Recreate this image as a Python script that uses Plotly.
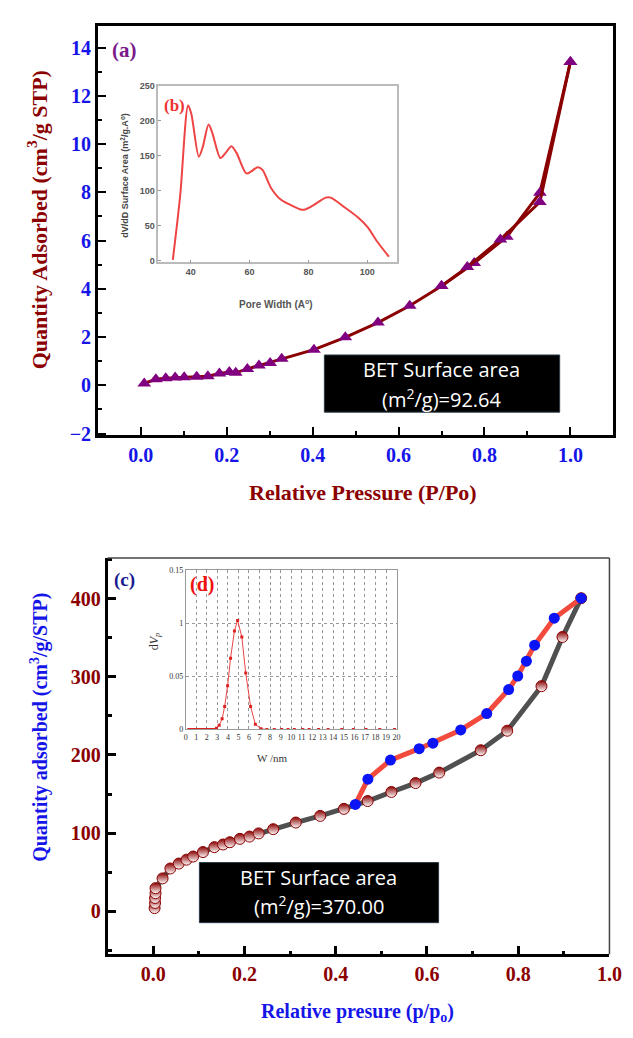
import plotly.graph_objects as go

W, H = 633, 1038
SERIF = "Liberation Serif, Times New Roman, serif"
DARKRED = "#8b0000"
BLUE = "#1515e8"

# ---------- (a) BET isotherm ----------
a_ads_x = [0.008, 0.035, 0.058, 0.08, 0.101, 0.13, 0.156, 0.183, 0.206, 0.221, 0.248, 0.275,
           0.301, 0.328, 0.403, 0.476, 0.552, 0.626, 0.70, 0.76, 0.837, 0.929, 1.0]
a_ads_y = [0.08, 0.25, 0.29, 0.32, 0.34, 0.36, 0.38, 0.49, 0.55, 0.52, 0.68, 0.82,
           0.93, 1.1, 1.48, 1.99, 2.6, 3.3, 4.12, 4.9, 6.04, 7.6, 13.4]
a_des_x = [1.0, 0.929, 0.852, 0.776, 0.70]
a_des_y = [13.4, 7.98, 6.16, 5.07, 4.12]

# ---------- (b) pore size distribution ----------
b_x = [33.9, 36.4, 39.1, 40.2, 42.75, 44.1, 46.06, 47.4, 50.1, 51.8, 53.8, 55.6, 58.9, 60.6,
       62.8, 64.4, 67.2, 70.5, 74.9, 78.2, 81.5, 85.9, 87.6, 92.5, 96.9, 100.2, 103.5, 107.4]
b_y = [1.4, 93, 222, 210, 149, 163, 195, 182, 147, 154, 164, 154, 125, 128,
       134, 130, 105, 88, 78, 73, 79, 90.5, 90.5, 76, 62, 48, 27, 6]

# ---------- (c) N2 isotherm ----------
c_ads_x = [0.003, 0.004, 0.004, 0.005, 0.005, 0.0204, 0.0375, 0.056, 0.073, 0.0875, 0.109,
           0.134, 0.153, 0.168, 0.19, 0.211, 0.231, 0.263, 0.3125, 0.366, 0.418, 0.47,
           0.522, 0.575, 0.627, 0.718, 0.776, 0.851, 0.897, 0.938]
c_ads_y = [4, 10.6, 17, 23, 29.5, 42, 54.7, 61, 66, 70, 75.7,
           82, 85.4, 88.3, 92.6, 95.5, 99.6, 105, 113.5, 122, 131, 141,
           152.6, 164, 177.4, 206, 231, 288, 351, 400.6]
c_des_x = [0.938, 0.879, 0.836, 0.818, 0.799, 0.779, 0.731, 0.674, 0.613, 0.583, 0.52, 0.4705, 0.443]
c_des_y = [400.6, 375, 340.5, 320, 301, 283.7, 253, 232, 215, 208, 193.4, 169, 136.7]

# ---------- (d) BJH distribution ----------
d_x = [0.3, 0.5, 0.7, 0.9, 1.1, 1.3, 1.5, 1.7, 1.9, 2.1, 2.3, 2.5, 2.7, 2.92, 3.17, 3.45, 3.69,
       3.97, 4.25, 4.62, 4.92, 5.32, 5.69, 6.15, 6.6, 7.14, 7.7, 8.4, 9.1, 9.7, 10.3, 11.1,
       11.7, 12.6, 13.5, 14.8, 15.9, 17.1, 18.4, 19.8]
d_y = [0, 0, 0, 0, 0, 0, 0, 0, 0, 0, 0, 0, 0, 0.0012, 0.004, 0.01, 0.0216,
       0.041, 0.067, 0.0926, 0.1025, 0.087, 0.053, 0.0216, 0.005, 0.0006, 0, 0, 0, 0, 0, 0,
       0, 0, 0, 0, 0, 0, 0, 0]
d_tickvals = [0, 0.05, 0.1, 0.15]
d_ticktext = ["0", "0.05", "1", "0.15"]


def px_x(p):
    return p / W


def px_y(p):
    return 1 - p / H


fig = go.Figure()

# (a)
fig.add_trace(go.Scatter(x=a_des_x, y=a_des_y, mode="lines+markers", xaxis="x", yaxis="y",
                         line=dict(color=DARKRED, width=3),
                         marker=dict(symbol="triangle-up", size=12, color="#800080"),
                         showlegend=False))
fig.add_trace(go.Scatter(x=a_ads_x, y=a_ads_y, mode="lines+markers", xaxis="x", yaxis="y",
                         line=dict(color=DARKRED, width=3),
                         marker=dict(symbol="triangle-up", size=12, color="#800080"),
                         showlegend=False))
# (b)
fig.add_trace(go.Scatter(x=b_x, y=b_y, mode="lines", xaxis="x2", yaxis="y2",
                         line=dict(color="#ee4444", width=2, shape="spline", smoothing=0.8),
                         showlegend=False))
# (c)
fig.add_trace(go.Scatter(x=c_ads_x, y=c_ads_y, mode="lines+markers", xaxis="x3", yaxis="y3",
                         line=dict(color="#505050", width=5),
                         marker=dict(symbol="circle", size=11, color=DARKRED,
                                     gradient=dict(type="vertical", color="white"),
                                     line=dict(color=DARKRED, width=1)),
                         showlegend=False))
fig.add_trace(go.Scatter(x=c_des_x, y=c_des_y, mode="lines+markers", xaxis="x3", yaxis="y3",
                         line=dict(color="#f24a3c", width=5),
                         marker=dict(symbol="circle", size=11, color="#0a14f5"),
                         showlegend=False))
# (d)
fig.add_trace(go.Scatter(x=d_x, y=d_y, mode="lines+markers", xaxis="x4", yaxis="y4",
                         line=dict(color="#ee4444", width=1),
                         marker=dict(symbol="square", size=3, color="#dd2222"),
                         showlegend=False))

tickfont_a = dict(family=SERIF, size=20, color=BLUE, weight="bold")
tickfont_c = dict(family=SERIF, size=20, color=DARKRED, weight="bold")

fig.update_layout(
    width=W, height=H,
    margin=dict(l=0, r=0, t=0, b=0),
    paper_bgcolor="white", plot_bgcolor="white",
    xaxis=dict(domain=[px_x(90), px_x(618)], range=[-0.1, 1.1], anchor="y",
               tickvals=[0, 0.2, 0.4, 0.6, 0.8, 1.0], ticktext=["0.0", "0.2", "0.4", "0.6", "0.8", "1.0"],
               ticks="inside", ticklen=8, tickwidth=2, tickcolor="black",
               minor=dict(ticks="inside", ticklen=4, tickwidth=2, dtick=0.1, tick0=0, tickcolor="black"),
               showline=True, linecolor="black", linewidth=2.5, mirror=True,
               showgrid=False, zeroline=False, tickfont=tickfont_a),
    yaxis=dict(domain=[px_y(428), px_y(13)], range=[-2.05, 14.9], anchor="x",
               tickvals=[-2, 0, 2, 4, 6, 8, 10, 12, 14],
               ticks="inside", ticklen=8, tickwidth=2, tickcolor="black",
               minor=dict(ticks="inside", ticklen=4, tickwidth=2, dtick=1, tick0=0, tickcolor="black"),
               showline=True, linecolor="black", linewidth=2.5, mirror=True,
               showgrid=False, zeroline=False, tickfont=tickfont_a),
    xaxis2=dict(domain=[px_x(152), px_x(396)], range=[29, 110], anchor="y2",
                tickvals=[40, 60, 80, 100], ticks="inside", ticklen=3, tickcolor="#999",
                showline=True, linecolor="#bbbbbb", linewidth=1.5, mirror=True,
                showgrid=False, zeroline=False,
                tickfont=dict(family="Liberation Sans, Arial, sans-serif", size=9, color="#555", weight="bold")),
    yaxis2=dict(domain=[px_y(253), px_y(74)], range=[-2, 250], anchor="x2",
                tickvals=[0, 50, 100, 150, 200, 250], ticks="inside", ticklen=3, tickcolor="#999",
                showline=True, linecolor="#bbbbbb", linewidth=1.5, mirror=True,
                showgrid=False, zeroline=False,
                tickfont=dict(family="Liberation Sans, Arial, sans-serif", size=9, color="#555", weight="bold")),
    xaxis3=dict(domain=[px_x(100), px_x(614)], range=[-0.1, 1.0], anchor="y3",
                tickvals=[0, 0.2, 0.4, 0.6, 0.8, 1.0], ticktext=["0.0", "0.2", "0.4", "0.6", "0.8", "1.0"],
                ticks="inside", ticklen=8, tickwidth=2.5, tickcolor="black",
                minor=dict(ticks="inside", ticklen=3, tickwidth=3, dtick=0.1, tick0=0, tickcolor="black"),
                showline=True, linecolor="black", linewidth=3,
                showgrid=False, zeroline=False, tickfont=tickfont_c),
    yaxis3=dict(domain=[px_y(955), px_y(553)], range=[-55, 452], anchor="x3",
                tickvals=[0, 100, 200, 300, 400],
                ticks="inside", ticklen=8, tickwidth=2.5, tickcolor="black",
                minor=dict(ticks="inside", ticklen=4, tickwidth=2.5, dtick=50, tick0=0, tickcolor="black"),
                showline=True, linecolor="black", linewidth=3,
                showgrid=False, zeroline=False, tickfont=tickfont_c),
    xaxis4=dict(domain=[px_x(180), px_x(396)], range=[0, 20], anchor="y4",
                tickvals=list(range(0, 21)), ticks="",
                showline=True, linecolor="#999", linewidth=1, mirror=True,
                showgrid=True, gridcolor="#999", griddash="dot", gridwidth=1, zeroline=False,
                tickfont=dict(family=SERIF, size=8, color="#333")),
    yaxis4=dict(domain=[px_y(727), px_y(565)], range=[0, 0.15], anchor="x4",
                tickvals=d_tickvals, ticktext=d_ticktext, ticks="",
                showline=True, linecolor="#999", linewidth=1, mirror=True,
                showgrid=True, gridcolor="#999", griddash="dot", gridwidth=1, zeroline=False,
                tickfont=dict(family=SERIF, size=8, color="#333")),
)

shapes = [
    # top/right frame of (c)
    dict(type="line", xref="paper", yref="paper", x0=px_x(100), x1=px_x(614), y0=px_y(553), y1=px_y(553),
         line=dict(color="#444", width=1.5)),
    dict(type="line", xref="paper", yref="paper", x0=px_x(614), x1=px_x(614), y0=px_y(553), y1=px_y(955),
         line=dict(color="#444", width=1.5)),
    # BET boxes
    dict(type="rect", xref="paper", yref="paper", x0=px_x(322), x1=px_x(563), y0=px_y(405), y1=px_y(347),
         fillcolor="black", line=dict(color="#2a3a48", width=1)),
    dict(type="rect", xref="paper", yref="paper", x0=px_x(194), x1=px_x(439), y0=px_y(923), y1=px_y(862),
         fillcolor="black", line=dict(color="#2a3a48", width=1)),
]
fig.update_layout(shapes=shapes)

SANS = "Open Sans, Lato, sans-serif"
ann = [
    # (a) axis titles
    dict(x=px_x(28), y=px_y(210), text="Quantity Adsorbed (cm<sup>3</sup>/g STP)", textangle=-90,
         font=dict(family=SERIF, size=22, color=DARKRED, weight="bold")),
    dict(x=px_x(362), y=px_y(487), text="Relative Pressure (P/Po)",
         font=dict(family=SERIF, size=22, color=DARKRED, weight="bold")),
    dict(x=px_x(117), y=px_y(38), text="(a)", font=dict(family=SERIF, size=21, color="#7a1a8a", weight="bold")),
    # (b)
    dict(x=px_x(168), y=px_y(94), text="(b)", font=dict(family=SERIF, size=17, color="#ee3333", weight="bold")),
    dict(x=px_x(272), y=px_y(295), text="Pore Width (A<sup>o</sup>)",
         font=dict(family="Liberation Sans, Arial, sans-serif", size=10, color="#555", weight="bold")),
    dict(x=px_x(117), y=px_y(165), text="dV/dD Surface Area (m<sup>2</sup>/g.A<sup>o</sup>)", textangle=-90,
         font=dict(family="Liberation Sans, Arial, sans-serif", size=9, color="#444", weight="bold")),
    # BET top
    dict(x=px_x(442), y=px_y(362), text="BET Surface area",
         font=dict(family=SANS, size=20, color="white")),
    dict(x=px_x(442), y=px_y(391), text="(m<sup>2</sup>/g)=92.64",
         font=dict(family=SANS, size=20, color="white")),
    # (c)
    dict(x=px_x(30), y=px_y(725), text="Quantity adsorbed (cm<sup>3</sup>/g/STP)", textangle=-90,
         font=dict(family=SERIF, size=20, color=BLUE, weight="bold")),
    dict(x=px_x(356), y=px_y(1014), text="Relative presure (p/p<sub>o</sub>)",
         font=dict(family=SERIF, size=20, color=BLUE, weight="bold")),
    dict(x=px_x(117), y=px_y(575), text="(c)", font=dict(family=SERIF, size=19, color="#1a1a90", weight="bold")),
    # (d)
    dict(x=px_x(197), y=px_y(580), text="(d)", font=dict(family=SERIF, size=20, color="#ee1111", weight="bold")),
    dict(x=px_x(268), y=px_y(756), text="W /nm", font=dict(family=SERIF, size=11, color="#333")),
    dict(x=px_x(148), y=px_y(637), text="d<i>V</i><sub><i>p</i></sub>", textangle=-90,
         font=dict(family=SERIF, size=12, color="#333")),
    # BET bottom
    dict(x=px_x(316), y=px_y(877), text="BET Surface area",
         font=dict(family=SANS, size=20, color="white")),
    dict(x=px_x(316), y=px_y(906), text="(m<sup>2</sup>/g)=370.00",
         font=dict(family=SANS, size=20, color="white")),
]
for a in ann:
    a.update(xref="paper", yref="paper", showarrow=False, xanchor="center", yanchor="middle")
fig.update_layout(annotations=ann)

fig.write_html("out.html")
